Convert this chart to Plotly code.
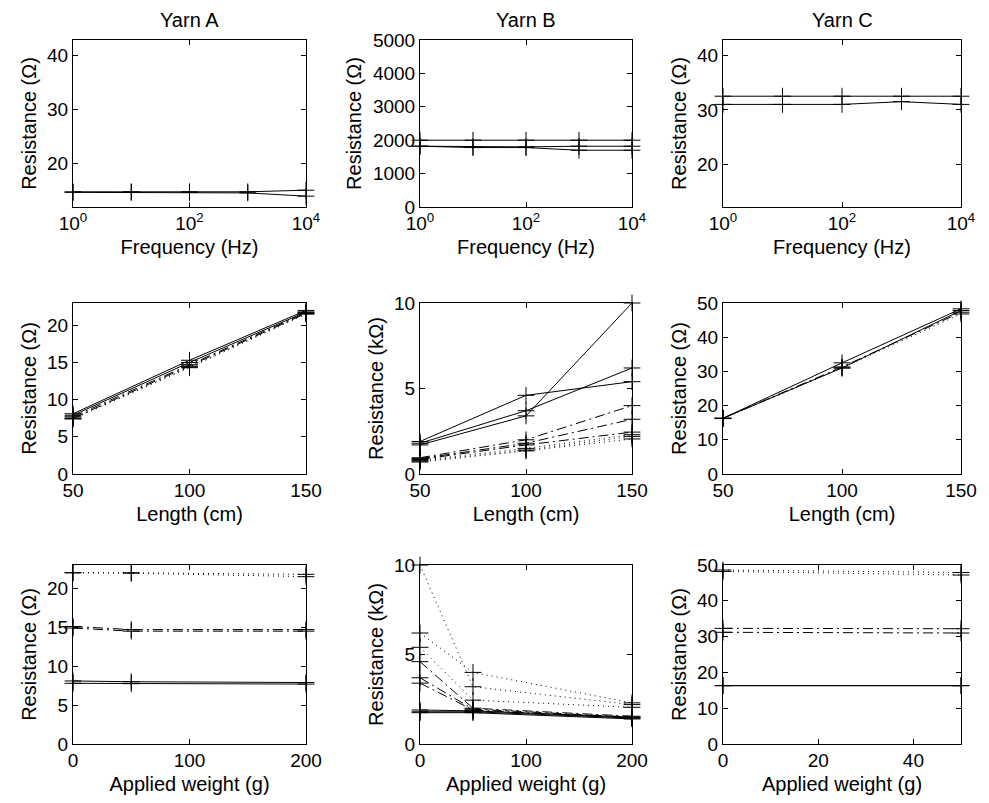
import plotly.graph_objects as go

# ---------------- data ----------------
FREQ = [1, 10, 100, 1000, 10000]
LENGTH = [50, 100, 150]
WEIGHT_AB = [0, 50, 200]
WEIGHT_C = [0, 50]

# Row 1: resistance vs frequency
A_FREQ_1 = [14.8, 14.8, 14.8, 14.8, 15.1]
A_FREQ_2 = [14.7, 14.7, 14.7, 14.6, 14.0]
B_FREQ_1 = [2000, 2000, 2000, 2000, 2000]
B_FREQ_2 = [1820, 1800, 1800, 1820, 1820]
B_FREQ_3 = [1820, 1780, 1780, 1700, 1700]
C_FREQ_1 = [32.5, 32.5, 32.5, 32.5, 32.5]
C_FREQ_2 = [31.0, 31.0, 31.0, 31.5, 31.0]

# Row 2: resistance vs length (solid = 0 g, dash-dot = 50 g, dotted = 200 g)
A_LEN_SOLID = [[8.1, 15.3, 22.0], [7.9, 15.0, 21.8]]
A_LEN_DASHDOT = [[7.7, 14.7, 21.7], [7.5, 14.5, 21.6]]
A_LEN_DOT = [[7.5, 14.4, 21.6], [7.4, 14.3, 21.5]]
B_LEN_SOLID = [[1.7, 3.4, 10.0], [1.8, 3.7, 6.2], [1.9, 4.6, 5.4]]
B_LEN_DASHDOT = [[0.95, 2.0, 4.0], [0.9, 1.8, 3.2], [0.85, 1.7, 2.45]]
B_LEN_DOT = [[0.8, 1.5, 2.3], [0.75, 1.4, 2.2], [0.7, 1.35, 2.05]]
C_LEN_SOLID = [[16.3, 32.5, 48.3], [16.3, 31.0, 47.8]]
C_LEN_DASHDOT = [[16.3, 31.3, 47.3]]
C_LEN_DOT = [[16.2, 31.0, 46.8]]

# Row 3: resistance vs applied weight (solid = 50 cm, dash-dot = 100 cm, dotted = 150 cm)
A_W_SOLID = [[8.1, 8.0, 7.9], [7.8, 7.75, 7.7]]
A_W_DASHDOT = [[15.1, 14.7, 14.7], [14.9, 14.5, 14.5]]
A_W_DOT = [[22.0, 22.0, 21.8], [22.0, 21.95, 21.5]]
B_W_SOLID = [[1.9, 1.85, 1.5], [1.8, 1.8, 1.45], [1.75, 1.75, 1.4]]
B_W_DASHDOT = [[4.6, 2.0, 1.55], [3.7, 1.95, 1.5], [3.4, 1.9, 1.45]]
B_W_DOT = [[10.0, 3.2, 2.2], [6.2, 4.0, 2.3], [5.4, 2.45, 2.05]]
C_W_SOLID = [[16.3, 16.3], [16.3, 16.3]]
C_W_DASHDOT = [[32.3, 32.2], [31.2, 31.0]]
C_W_DOT = [[48.6, 47.9], [48.2, 47.2]]

COLUMN_TITLES = ["Yarn A", "Yarn B", "Yarn C"]

# ---------------- styling ----------------
PAGE_W, PAGE_H = 989, 803
OFF = 8  # default page body margin
W, H = PAGE_W - 2 * OFF, PAGE_H - 2 * OFF
FONT = "Liberation Sans, Arial, Helvetica, sans-serif"
DASH = {"solid": "solid", "dashdot": "10px,4px,2px,4px", "dot": "1px,4px"}

# target pixel boxes in the page
col_px = [(73, 306), (420, 632), (723, 961)]
row_px = [(40, 207), (303, 474), (565, 744)]


def xdom(c):
    return [(col_px[c][0] - OFF) / W, (col_px[c][1] - OFF) / W]


def ydom(r):
    return [1 - (row_px[r][1] - OFF) / H, 1 - (row_px[r][0] - OFF) / H]


fig = go.Figure()


def add(idx, xs, ys, style):
    fig.add_trace(go.Scatter(
        x=xs, y=ys, mode="lines+markers",
        line=dict(color="black", width=1, dash=DASH[style]),
        marker=dict(symbol="cross-thin", size=12, color="black",
                    line=dict(color="black", width=1)),
        cliponaxis=False, showlegend=False,
        xaxis="x" if idx == 1 else f"x{idx}",
        yaxis="y" if idx == 1 else f"y{idx}",
    ))


# panel index = row*3 + col + 1
for ys in [A_FREQ_1, A_FREQ_2]:
    add(1, FREQ, ys, "solid")
for ys in [B_FREQ_1, B_FREQ_2, B_FREQ_3]:
    add(2, FREQ, ys, "solid")
for ys in [C_FREQ_1, C_FREQ_2]:
    add(3, FREQ, ys, "solid")

for idx, groups in [(4, (A_LEN_SOLID, A_LEN_DASHDOT, A_LEN_DOT)),
                    (5, (B_LEN_SOLID, B_LEN_DASHDOT, B_LEN_DOT)),
                    (6, (C_LEN_SOLID, C_LEN_DASHDOT, C_LEN_DOT))]:
    for style, grp in zip(["solid", "dashdot", "dot"], groups):
        for ys in grp:
            add(idx, LENGTH, ys, style)

for idx, xs, groups in [(7, WEIGHT_AB, (A_W_SOLID, A_W_DASHDOT, A_W_DOT)),
                        (8, WEIGHT_AB, (B_W_SOLID, B_W_DASHDOT, B_W_DOT)),
                        (9, WEIGHT_C, (C_W_SOLID, C_W_DASHDOT, C_W_DOT))]:
    for style, grp in zip(["solid", "dashdot", "dot"], groups):
        for ys in grp:
            add(idx, xs, ys, style)

TICK_SIZE = 19
TITLE_SIZE = 20

ax_common = dict(showline=True, linecolor="black", linewidth=1, mirror="ticks",
                 ticks="inside", ticklen=5, tickcolor="black", tickwidth=1,
                 showgrid=False, zeroline=False, automargin=False,
                 tickfont=dict(family=FONT, size=TICK_SIZE, color="black"))

x_titles = ["Frequency (Hz)", "Length (cm)", "Applied weight (g)"]
y_ranges = [[12, 42.8], [0, 5000], [12.2, 42.8],
            [0, 23], [0, 10], [0, 50],
            [0, 23], [0, 10], [0, 50]]
y_ticks = [[20, 30, 40], [0, 1000, 2000, 3000, 4000, 5000], [20, 30, 40],
           [0, 5, 10, 15, 20], [0, 5, 10], [0, 10, 20, 30, 40, 50],
           [0, 5, 10, 15, 20], [0, 5, 10], [0, 10, 20, 30, 40, 50]]
y_titles = ["Resistance (Ω)", "Resistance (Ω)", "Resistance (Ω)",
            "Resistance (Ω)", "Resistance (kΩ)", "Resistance (Ω)",
            "Resistance (Ω)", "Resistance (kΩ)", "Resistance (Ω)"]

layout = {}
for r in range(3):
    for c in range(3):
        idx = r * 3 + c + 1
        xk = "xaxis" if idx == 1 else f"xaxis{idx}"
        yk = "yaxis" if idx == 1 else f"yaxis{idx}"
        xa = dict(ax_common, domain=xdom(c), anchor="y" if idx == 1 else f"y{idx}",
                  ticklabelstandoff=-1,
                  title=dict(text=x_titles[r], standoff=7,
                             font=dict(family=FONT, size=TITLE_SIZE, color="black")))
        if r == 0:
            xa.update(type="log", range=[0, 4], tickvals=[1, 100, 10000],
                      ticktext=["10<sup>0</sup>", "10<sup>2</sup>", "10<sup>4</sup>"])
        elif r == 1:
            xa.update(range=[50, 150], tickvals=[50, 100, 150])
        else:
            if c == 2:
                xa.update(range=[0, 50], tickvals=[0, 20, 40])
            else:
                xa.update(range=[0, 200], tickvals=[0, 100, 200])
        ya = dict(ax_common, domain=ydom(r), anchor="x" if idx == 1 else f"x{idx}",
                  range=y_ranges[idx - 1], tickvals=y_ticks[idx - 1],
                  title=dict(text=y_titles[idx - 1], standoff=5,
                             font=dict(family=FONT, size=TITLE_SIZE, color="black")))
        layout[xk] = xa
        layout[yk] = ya

annotations = []
for c, t in enumerate(COLUMN_TITLES):
    annotations.append(dict(text=t, x=sum(xdom(c)) / 2, y=1 - (20 - OFF) / H,
                            xref="paper", yref="paper", showarrow=False,
                            xanchor="center", yanchor="middle",
                            font=dict(family=FONT, size=TITLE_SIZE, color="black")))

fig.update_layout(width=W, height=H, margin=dict(l=0, r=0, t=0, b=0, autoexpand=False),
                  paper_bgcolor="white", plot_bgcolor="white",
                  annotations=annotations, font=dict(family=FONT, color="black"),
                  **layout)

fig.write_html("out.html")
